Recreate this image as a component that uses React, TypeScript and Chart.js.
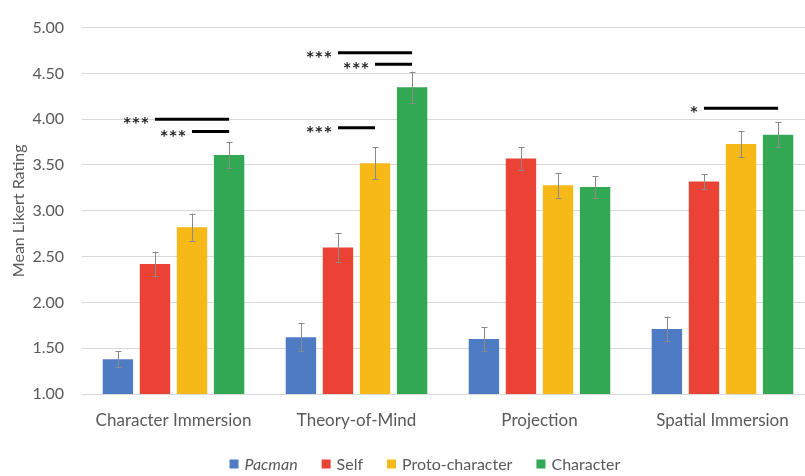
import React, { useEffect, useRef } from "react";
import { Chart, registerables } from "chart.js";

Chart.register(...registerables);

const categories = ["Character Immersion", "Theory-of-Mind", "Projection", "Spatial Immersion"];
const seriesNames = ["Pacman", "Self", "Proto-character", "Character"];

const pacman = [1.38, 1.62, 1.6, 1.71];
const self = [2.42, 2.6, 3.57, 3.32];
const proto = [2.82, 3.52, 3.28, 3.73];
const character = [3.61, 4.35, 3.26, 3.83];

const pacmanErr = [0.09, 0.155, 0.13, 0.135];
const selfErr = [0.135, 0.155, 0.125, 0.08];
const protoErr = [0.15, 0.175, 0.135, 0.14];
const characterErr = [0.14, 0.17, 0.115, 0.135];

const yTicks = [1, 1.5, 2, 2.5, 3, 3.5, 4, 4.5, 5];

// significance brackets: category index, from series, to series, y level, label
const sigGroup = [0, 0, 1, 1, 1, 3];
const sigFrom = [1, 2, 1, 2, 1, 1];
const sigTo = [3, 3, 3, 3, 2, 3];
const sigLevel = [4.0, 3.865, 4.725, 4.6, 3.907, 4.12];
const sigLabel = ["***", "***", "***", "***", "***", "*"];

const colors = ["#4e7cc4", "#ea4335", "#f7b917", "#33a852"];
const FONT = "Lato, 'Liberation Sans', sans-serif";
const TEXT = "#595959";

export default function App() {
  const ref = useRef<HTMLCanvasElement>(null);

  useEffect(() => {
    const values = [pacman, self, proto, character];
    const errs = [pacmanErr, selfErr, protoErr, characterErr];

    const errorBars = {
      id: "errorBars",
      afterDatasetsDraw(chart: any) {
        const ctx = chart.ctx;
        const y = chart.scales.y;
        ctx.save();
        ctx.strokeStyle = "#8a8a8a";
        ctx.lineWidth = 1;
        values.forEach((vals, i) => {
          const meta = chart.getDatasetMeta(i);
          meta.data.forEach((el: any, j: number) => {
            const x = Math.round(el.x) + 0.5;
            const t = y.getPixelForValue(vals[j] + errs[i][j]);
            const b = y.getPixelForValue(vals[j] - errs[i][j]);
            ctx.beginPath();
            ctx.moveTo(x, t);
            ctx.lineTo(x, b);
            ctx.moveTo(x - 3, Math.round(t) + 0.5);
            ctx.lineTo(x + 3, Math.round(t) + 0.5);
            ctx.moveTo(x - 3, Math.round(b) + 0.5);
            ctx.lineTo(x + 3, Math.round(b) + 0.5);
            ctx.stroke();
          });
        });
        ctx.restore();
      },
    };

    const sig = {
      id: "sig",
      afterDatasetsDraw(chart: any) {
        const ctx = chart.ctx;
        const y = chart.scales.y;
        ctx.save();
        sigGroup.forEach((g, k) => {
          const x0 = chart.getDatasetMeta(sigFrom[k]).data[g].x;
          const x1 = chart.getDatasetMeta(sigTo[k]).data[g].x;
          const py = y.getPixelForValue(sigLevel[k]);
          ctx.strokeStyle = "#000";
          ctx.lineWidth = 3;
          ctx.beginPath();
          ctx.moveTo(x0, py);
          ctx.lineTo(x1, py);
          ctx.stroke();
          ctx.fillStyle = "#222";
          ctx.font = `bold 14px 'DejaVu Sans', sans-serif`;
          (ctx as any).letterSpacing = "1.5px";
          ctx.textAlign = "right";
          ctx.textBaseline = "alphabetic";
          ctx.fillText(sigLabel[k], x0 - 5, py + 8);
        });
        ctx.restore();
      },
    };

    const legendPlugin = {
      id: "customLegend",
      afterDraw(chart: any) {
        const ctx = chart.ctx;
        ctx.save();
        const box = 9;
        const gap = 6;
        const itemGap = 24;
        const fonts = seriesNames.map((_, i) => (i === 0 ? `italic 16px ${FONT}` : `16px ${FONT}`));
        const widths = seriesNames.map((n, i) => {
          ctx.font = fonts[i];
          return box + gap + ctx.measureText(n).width;
        });
        const total = widths.reduce((a, b) => a + b, 0) + itemGap * (widths.length - 1);
        let x = chart.width * 0.522 - total / 2;
        const cy = chart.height - 12;
        seriesNames.forEach((n, i) => {
          ctx.fillStyle = colors[i];
          ctx.fillRect(x, cy - box / 2, box, box);
          ctx.font = fonts[i];
          ctx.fillStyle = TEXT;
          ctx.textAlign = "left";
          ctx.textBaseline = "middle";
          ctx.fillText(n, x + box + gap, cy + 1);
          x += widths[i] + itemGap;
        });
        ctx.restore();
      },
    };

    const chart = new Chart(ref.current as HTMLCanvasElement, {
      type: "bar",
      data: {
        labels: categories,
        datasets: seriesNames.map((n, i) => ({
          label: n,
          data: values[i],
          backgroundColor: colors[i],
          categoryPercentage: 0.81,
          barPercentage: 0.82,
        })),
      },
      options: {
        responsive: false,
        animation: false,
        layout: { padding: { top: 16, right: 0, bottom: 44, left: 0 } },
        plugins: { legend: { display: false }, tooltip: { enabled: false } },
        scales: {
          x: {
            grid: { display: false, drawTicks: false },
            border: { display: false },
            ticks: { color: TEXT, font: { family: FONT, size: 17 }, padding: 16 },
            afterFit: (s: any) => {
              s.height = 38;
            },
          },
          y: {
            min: 1,
            max: 5,
            afterBuildTicks: (s: any) => {
              s.ticks = yTicks.map((v) => ({ value: v }));
            },
            ticks: {
              callback: (v: any) => Number(v).toFixed(2),
              color: TEXT,
              font: { family: FONT, size: 16 },
              padding: 18,
            },
            grid: { color: "#d9d9d9", drawTicks: false },
            border: { display: false },
            title: {
              display: true,
              text: "Mean Likert Rating",
              color: TEXT,
              font: { family: FONT, size: 16 },
              padding: { top: 9, bottom: 0 },
            },
            afterFit: (s: any) => {
              s.width = 82;
            },
          },
        },
      },
      plugins: [errorBars, sig, legendPlugin],
    });
    return () => chart.destroy();
  }, []);

  return (
    <div
      style={{
        position: "fixed",
        left: 0,
        top: 0,
        width: 805,
        height: 476,
        overflow: "hidden",
        background: "#fff",
      }}
    >
      <canvas ref={ref} width={814} height={476} style={{ display: "block" }} />
    </div>
  );
}
